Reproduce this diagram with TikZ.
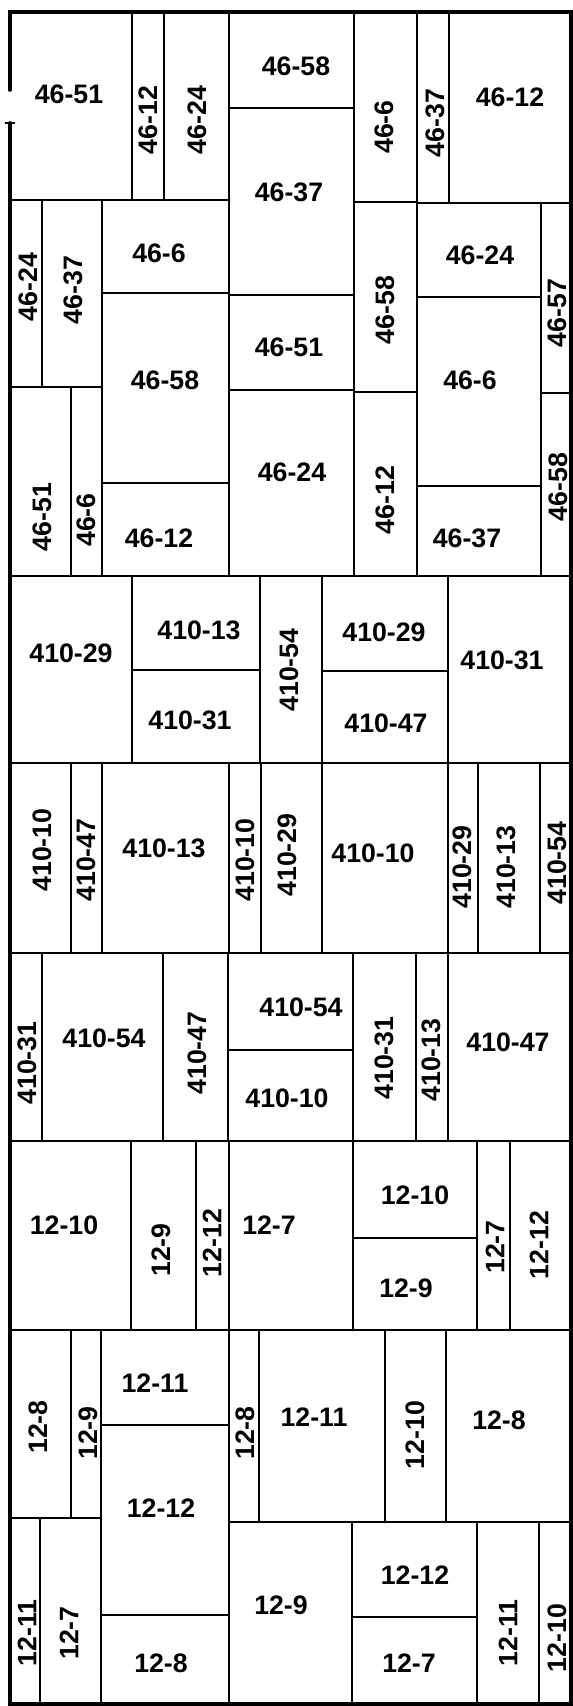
\documentclass[tikz,border=0pt]{standalone}
\usepackage{fontspec}
\setmainfont{Liberation Sans}
\begin{document}
\begin{tikzpicture}[x=0.025cm,y=-0.025cm,
  cut/.style={draw=black,line width=1.4pt},
  seam/.style={draw=black,line width=2.1pt},
  lab/.style={font=\bfseries\fontsize{19}{19}\selectfont,inner sep=0pt},
  vlab/.style={lab,rotate=90},
]
\useasboundingbox (0,0) rectangle (573,1706);
% 46 series
\draw[cut] (132,12) -- (132,200) -- (9,200); \node[lab] (a51) at (69,94) {46-51};
\draw[cut] (132,12) rectangle (164,200); \node[vlab] (a12) at (148,120) {46-12};
\draw[cut] (164,12) rectangle (229,200); \node[vlab] (a24) at (197,120) {46-24};
\draw[cut] (229,12) rectangle (354,108); \node[lab] (a58) at (296,66) {46-58};
\draw[cut] (229,108) rectangle (354,295); \node[lab] (a37) at (289,192) {46-37};
\draw[cut] (354,12) rectangle (417,202); \node[vlab] (a6) at (384,127) {46-6};
\draw[cut] (417,12) rectangle (449,203); \node[vlab] (a37b) at (435,123) {46-37};
\draw[cut] (449,12) rectangle (571,203); \node[lab] (a12b) at (510,97) {46-12};
\draw[cut] (9,200) rectangle (42,387); \node[vlab] (a24b) at (28,287) {46-24};
\draw[cut] (42,200) rectangle (102,387); \node[vlab] (a37c) at (73,290) {46-37};
\draw[cut] (102,200) rectangle (229,293); \node[lab] (a6b) at (159,253) {46-6};
\draw[cut] (102,293) rectangle (229,483); \node[lab] (a58b) at (165,380) {46-58};
\draw[cut] (102,483) rectangle (229,576); \node[lab] (a12c) at (159,538) {46-12};
\draw[cut] (9,387) rectangle (71,576); \node[vlab] (a51b) at (42,517) {46-51};
\draw[cut] (71,387) rectangle (102,576); \node[vlab] (a6c) at (86,520) {46-6};
\draw[cut] (229,295) rectangle (354,390); \node[lab] (a51c) at (289,347) {46-51};
\draw[cut] (229,390) rectangle (354,576); \node[lab] (a24c) at (292,472) {46-24};
\draw[cut] (354,202) rectangle (417,392); \node[vlab] (a58c) at (385,310) {46-58};
\draw[cut] (354,392) rectangle (417,576); \node[vlab] (a12d) at (385,500) {46-12};
\draw[cut] (417,203) rectangle (541,297); \node[lab] (a24d) at (480,255) {46-24};
\draw[cut] (541,203) rectangle (571,393); \node[vlab] (a57) at (557,313) {46-57};
\draw[cut] (417,297) rectangle (541,486); \node[lab] (a6d) at (470,380) {46-6};
\draw[cut] (417,486) rectangle (541,576); \node[lab] (a37d) at (467,538) {46-37};
\draw[cut] (541,393) rectangle (571,576); \node[vlab] (a58d) at (558,487) {46-58};
% 410 series
\draw[cut] (9,576) rectangle (132,763); \node[lab] (b29) at (71,653) {410-29};
\draw[cut] (132,576) rectangle (260,670); \node[lab] (b13) at (199,630) {410-13};
\draw[cut] (132,670) rectangle (260,763); \node[lab] (b31) at (190,720) {410-31};
\draw[cut] (260,576) rectangle (322,763); \node[vlab] (b54) at (289,670) {410-54};
\draw[cut] (322,576) rectangle (448,671); \node[lab] (b29b) at (384,632) {410-29};
\draw[cut] (322,671) rectangle (448,763); \node[lab] (b47) at (386,723) {410-47};
\draw[cut] (448,576) rectangle (571,763); \node[lab] (b31b) at (502,660) {410-31};
\draw[cut] (9,763) rectangle (71,953); \node[vlab] (b10) at (42,850) {410-10};
\draw[cut] (71,763) rectangle (102,953); \node[vlab] (b47b) at (86,860) {410-47};
\draw[cut] (102,763) rectangle (229,953); \node[lab] (b13b) at (164,848) {410-13};
\draw[cut] (229,763) rectangle (261,953); \node[vlab] (b10b) at (245,860) {410-10};
\draw[cut] (261,763) rectangle (322,953); \node[vlab] (b29c) at (287,855) {410-29};
\draw[cut] (322,763) rectangle (448,953); \node[lab] (b10c) at (373,853) {410-10};
\draw[cut] (448,763) rectangle (478,953); \node[vlab] (b29d) at (462,867) {410-29};
\draw[cut] (478,763) rectangle (540,953); \node[vlab] (b13c) at (506,867) {410-13};
\draw[cut] (540,763) rectangle (571,953); \node[vlab] (b54b) at (557,863) {410-54};
\draw[cut] (9,953) rectangle (42,1141); \node[vlab] (b31c) at (27,1063) {410-31};
\draw[cut] (42,953) rectangle (163,1141); \node[lab] (b54c) at (104,1038) {410-54};
\draw[cut] (163,953) rectangle (228,1141); \node[vlab] (b47c) at (197,1053) {410-47};
\draw[cut] (228,953) rectangle (353,1050); \node[lab] (b54d) at (301,1007) {410-54};
\draw[cut] (228,1050) rectangle (353,1141); \node[lab] (b10d) at (287,1098) {410-10};
\draw[cut] (353,953) rectangle (416,1141); \node[vlab] (b31d) at (384,1058) {410-31};
\draw[cut] (416,953) rectangle (448,1141); \node[vlab] (b13d) at (431,1060) {410-13};
\draw[cut] (448,953) rectangle (571,1141); \node[lab] (b47d) at (508,1042) {410-47};
% 12 series
\draw[cut] (9,1141) rectangle (131,1330); \node[lab] (c10) at (64,1225) {12-10};
\draw[cut] (131,1141) rectangle (196,1330); \node[vlab] (c9) at (161,1250) {12-9};
\draw[cut] (196,1141) rectangle (229,1330); \node[vlab] (c12) at (212,1243) {12-12};
\draw[cut] (229,1141) rectangle (353,1330); \node[lab] (c7) at (269,1225) {12-7};
\draw[cut] (353,1141) rectangle (477,1238); \node[lab] (c10b) at (415,1195) {12-10};
\draw[cut] (353,1238) rectangle (477,1330); \node[lab] (c9b) at (406,1288) {12-9};
\draw[cut] (477,1141) rectangle (510,1330); \node[vlab] (c7b) at (495,1247) {12-7};
\draw[cut] (510,1141) rectangle (571,1330); \node[vlab] (c12b) at (539,1245) {12-12};
\draw[cut] (9,1330) rectangle (71,1518); \node[vlab] (c8) at (38,1427) {12-8};
\draw[cut] (71,1330) rectangle (101,1518); \node[vlab] (c9c) at (88,1433) {12-9};
\draw[cut] (101,1330) rectangle (229,1425); \node[lab] (c11) at (155,1383) {12-11};
\draw[cut] (101,1425) rectangle (229,1615); \node[lab] (c12c) at (161,1508) {12-12};
\draw[cut] (101,1615) rectangle (229,1704); \node[lab] (c8b) at (161,1663) {12-8};
\draw[cut] (9,1518) rectangle (40,1704); \node[vlab] (c11b) at (27,1633) {12-11};
\draw[cut] (40,1518) rectangle (101,1704); \node[vlab] (c7c) at (69,1633) {12-7};
\draw[cut] (229,1330) rectangle (259,1522); \node[vlab] (c8c) at (245,1433) {12-8};
\draw[cut] (259,1330) rectangle (385,1522); \node[lab] (c11c) at (314,1417) {12-11};
\draw[cut] (385,1330) rectangle (446,1522); \node[vlab] (c10c) at (415,1435) {12-10};
\draw[cut] (446,1330) rectangle (571,1522); \node[lab] (c8d) at (499,1420) {12-8};
\draw[cut] (229,1522) rectangle (352,1704); \node[lab] (c9d) at (281,1605) {12-9};
\draw[cut] (352,1522) rectangle (477,1617); \node[lab] (c12d) at (415,1575) {12-12};
\draw[cut] (352,1617) rectangle (477,1704); \node[lab] (c7d) at (409,1663) {12-7};
\draw[cut] (477,1522) rectangle (539,1704); \node[vlab] (c11d) at (508,1633) {12-11};
\draw[cut] (539,1522) rectangle (571,1704); \node[vlab] (c10d) at (557,1638) {12-10};
% seams and frame
\draw[seam] (9,576) -- (571,576);
\draw[seam] (9,763) -- (571,763);
\draw[seam] (9,953) -- (571,953);
\draw[seam] (9,1141) -- (571,1141);
\draw[seam] (9,1330) -- (571,1330);
\draw[seam,line width=2.6pt,line cap=round] (10,90) -- (10,12) -- (571,12) -- (571,1704) -- (10,1704) -- (10,123);
\draw[seam] (5,123) -- (15,123);
\end{tikzpicture}
\end{document}
